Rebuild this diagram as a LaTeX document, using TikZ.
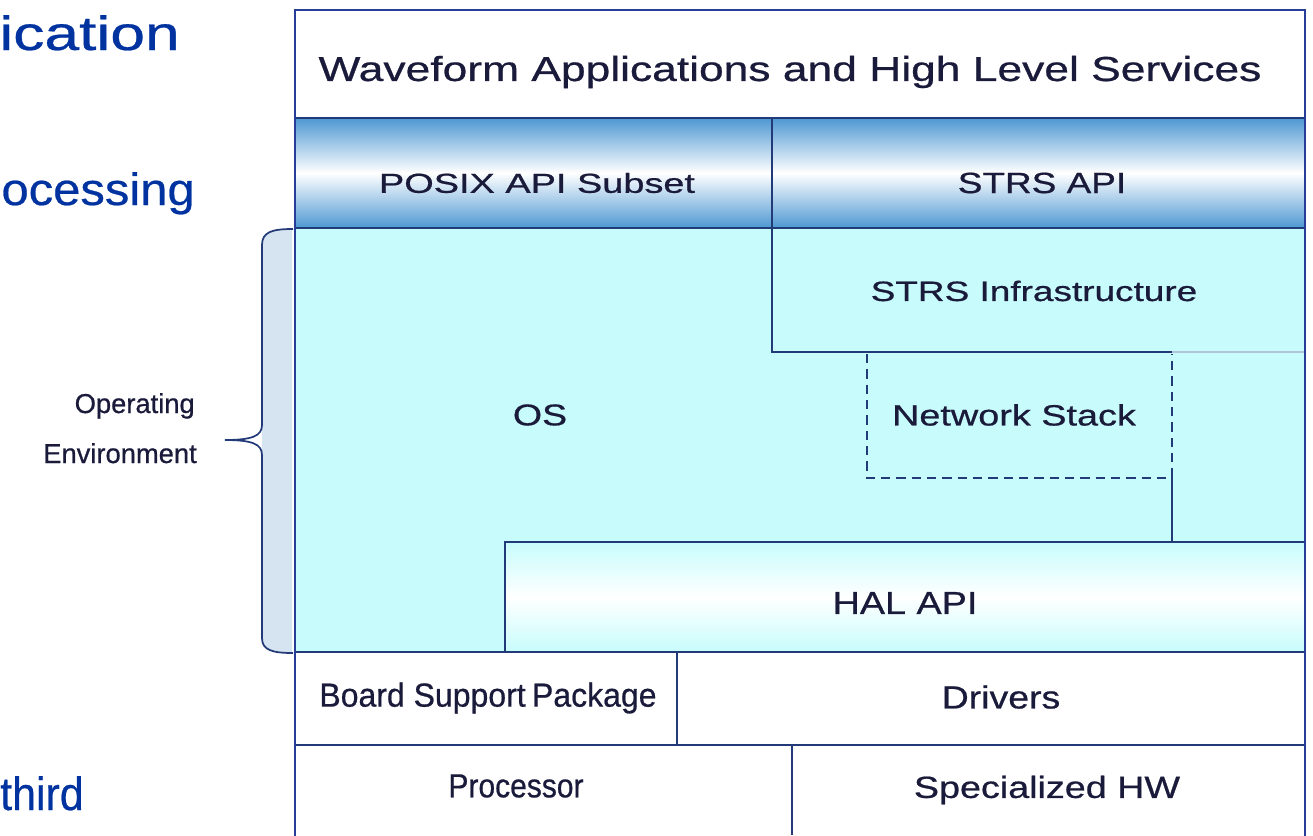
\documentclass[tikz,border=0pt]{standalone}
\usepackage{fontspec}
\setmainfont{Liberation Sans}
\newfontfamily\lblfont{Liberation Sans}[FakeBold=0.6]
\newfontfamily\headfont{Liberation Sans}[FakeBold=0.5]
\definecolor{txt}{RGB}{26,26,58}
\definecolor{ln}{RGB}{35,58,120}
\definecolor{frame}{RGB}{38,62,150}
\definecolor{oscyan}{RGB}{200,252,252}
\definecolor{apiblue}{RGB}{78,152,210}
\definecolor{headblue}{RGB}{0,51,160}
\definecolor{bracefill}{RGB}{214,228,242}
\definecolor{lightln}{RGB}{175,195,218}
\newcommand\lbl[3]{\scalebox{#2}[1]{\fontsize{#1pt}{#1pt}\selectfont #3}}
\tikzset{
  lay/.style={draw=ln, line width=1.6pt},
  lbltext/.style={inner sep=0pt, text=txt, font=\lblfont},
  head/.style={inner sep=0pt, text=headblue, anchor=base east, font=\headfont},
}
\begin{document}
\begin{tikzpicture}[x=0.75pt,y=-0.75pt]
\useasboundingbox (0,0) rectangle (1313,835);
\fill[white] (0,0) rectangle (1313,835);
% fills
\shade[top color=apiblue, bottom color=apiblue, middle color=white] (295,118) rectangle (1305,228);
\fill[oscyan] (295,228) rectangle (1305,652);
\shade[top color=oscyan, bottom color=oscyan, middle color=white] (505,542) rectangle (1305,652);
% brace fill
\fill[bracefill] (292,229) .. controls (272,229) and (262,232) .. (262,245) -- (262,638) .. controls (262,650) and (272,653) .. (292,653) -- cycle;
\draw[draw=ln, line width=1.3pt] (293,229) .. controls (272,229) and (262,232) .. (262,245) -- (262,425) .. controls (262,436) and (252,440) .. (225,440) .. controls (252,440) and (262,444) .. (262,455) -- (262,638) .. controls (262,650) and (272,653) .. (293,653);
% layer lines
\draw[lay] (295,118) -- (1305,118);
\draw[lay] (295,228) -- (1305,228);
\draw[lay] (772,118) -- (772,352) -- (1172,352);
\draw[draw=lightln, line width=1.4pt] (1172,352) -- (1305,352);
\draw[draw=ln, line width=1.4pt, dash pattern=on 7pt off 4.5pt] (867,354) -- (867,478) -- (1172,478) -- (1172,354);
\draw[lay] (1172,478) -- (1172,542);
\draw[lay] (505,652) -- (505,542) -- (1305,542);
\draw[lay] (295,652) -- (1305,652);
\draw[lay] (677,652) -- (677,745);
\draw[lay] (295,745) -- (1305,745);
\draw[lay] (792,745) -- (792,835);
% outer frame
\draw[draw=frame, line width=2.2pt] (295,840) -- (295,10) -- (1305,10) -- (1305,840);
% labels
\node[lbltext] (wave) at (790,72) {\lbl{26}{1.28}{Waveform Applications and High Level Services}};
\node[lbltext] (posix) at (537,183) {\lbl{20.6}{1.38}{POSIX API Subset}};
\node[lbltext] (strsapi) at (1042,183) {\lbl{22}{1.26}{STRS API}};
\node[lbltext] (strsinf) at (1034,291) {\lbl{21}{1.32}{STRS Infrastructure}};
\node[lbltext] (os) at (540,415) {\lbl{22.5}{1.25}{OS}};
\node[lbltext] (net) at (1014,415) {\lbl{22}{1.29}{Network Stack}};
\node[lbltext] (hal) at (905,603) {\lbl{23.8}{1.19}{HAL API}};
\node[lbltext] (bsp) at (488,698) {\lbl{25}{0.96}{Board Support\kern-2pt\ Package}};
\node[lbltext] (drv) at (1001,697) {\lbl{24}{1.17}{Drivers}};
\node[lbltext] (proc) at (516,786) {\lbl{25}{0.9}{Processor}};
\node[lbltext] (spec) at (1047,790) {\lbl{23}{1.23}{Specialized HW}};
% operating environment
\node[lbltext, anchor=base east] (op) at (195,413) {\lbl{20.5}{1.0}{Operating}};
\node[lbltext, anchor=base east] (env) at (197,463) {\lbl{20.5}{1.0}{Environment}};
% cut-off slide text
\node[head] (t1) at (180,50) {\lbl{36}{1.3}{ication}};
\node[head] (t2) at (195,205) {\lbl{34}{1.08}{ocessing}};
\node[head] (t3) at (84,810) {\lbl{35}{0.92}{third}};
\end{tikzpicture}
\end{document}
